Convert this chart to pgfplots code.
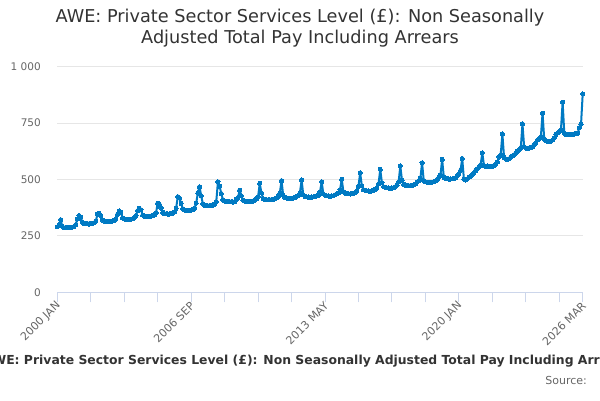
\documentclass[border=0pt]{standalone}
\usepackage{pgfplots}
\usepackage{pgfplotstable}
\pgfplotsset{compat=1.18}
\usepackage{fontspec}
\setmainfont{DejaVu Sans}
\definecolor{linec}{RGB}{0,122,195}
\definecolor{axc}{HTML}{CCD6EB}
\definecolor{gridc}{HTML}{E6E6E6}
\definecolor{labc}{HTML}{666666}
\definecolor{titc}{HTML}{333333}

\pgfplotstableread{
x y
0 290
1 298
2 322
3 292
4 286
5 287
6 288
7 287
8 288
9 289
10 291
11 300
12 325
13 340
14 333
15 310
16 305
17 304
18 305
19 303
20 305
21 306
22 308
23 315
24 345
25 350
26 338
27 320
28 316
29 315
30 314
31 313
32 315
33 316
34 318
35 326
36 345
37 360
38 354
39 330
40 325
41 324
42 323
43 322
44 324
45 326
46 330
47 340
48 362
49 372
50 366
51 342
52 338
53 337
54 336
55 337
56 338
57 340
58 343
59 352
60 395
61 390
62 374
63 354
64 349
65 348
66 347
67 347
68 349
69 351
70 356
71 372
72 424
73 418
74 394
75 370
76 365
77 364
78 363
79 363
80 365
81 367
82 373
83 395
84 440
85 468
86 428
87 392
88 386
89 385
90 384
91 383
92 385
93 387
94 391
95 402
96 490
97 470
98 438
99 410
100 405
101 404
102 403
103 402
104 401
105 400
106 402
107 412
108 420
109 453
110 428
111 408
112 405
113 404
114 404
115 403
116 404
117 405
118 408
119 414
120 424
121 483
122 440
123 415
124 412
125 411
126 410
127 410
128 411
129 412
130 414
131 418
132 425
133 440
134 495
135 430
136 420
137 418
138 417
139 416
140 417
141 418
142 420
143 425
144 428
145 440
146 498
147 432
148 425
149 423
150 422
151 421
152 422
153 423
154 425
155 428
156 430
157 445
158 490
159 436
160 430
161 428
162 427
163 426
164 427
165 428
166 432
167 437
168 440
169 455
170 501
171 445
172 440
173 438
174 437
175 436
176 437
177 438
178 442
179 450
180 470
181 530
182 472
183 455
184 452
185 450
186 449
187 448
188 450
189 452
190 456
191 462
192 480
193 545
194 486
195 468
196 465
197 463
198 462
199 461
200 462
201 464
202 468
203 475
204 490
205 560
206 496
207 478
208 475
209 474
210 473
211 472
212 474
213 476
214 480
215 488
216 495
217 505
218 574
219 495
220 490
221 488
222 487
223 486
224 488
225 490
226 494
227 500
228 510
229 520
230 589
231 510
232 505
233 503
234 502
235 502
236 503
237 505
238 508
239 515
240 525
241 540
242 593
243 502
244 498
245 503
246 510
247 515
248 522
249 530
250 540
251 548
252 555
253 565
254 618
255 562
256 558
257 560
258 558
259 556
260 558
261 562
262 567
263 578
264 600
265 610
266 702
267 598
268 592
269 588
270 592
271 598
272 605
273 610
274 616
275 625
276 632
277 640
278 747
279 645
280 640
281 638
282 640
283 642
284 646
285 652
286 662
287 675
288 680
289 690
290 794
291 680
292 672
293 670
294 668
295 670
296 675
297 685
298 700
299 706
300 712
301 720
302 843
303 705
304 700
305 700
306 698
307 698
308 700
309 702
310 705
311 705
312 730
313 745
314 879
}\data

\begin{document}
\begin{tikzpicture}[x=1pt,y=1pt]
\useasboundingbox (0,0) rectangle (600,400);
\clip (0,0) rectangle (600,400);
\fill[white] (0,0) rectangle (600,400);
\node[align=center, text=titc, font=\fontsize{17.7}{21}\selectfont] at (300,371.5)
  {AWE: Private Sector Services Level (£): Non Seasonally\\Adjusted Total Pay Including Arrears};
\begin{axis}[
  at={(57.3pt,107.7pt)}, anchor=south west, scale only axis,
  width=525.4pt, height=225.6pt,
  xmin=0, xmax=314, ymin=0, ymax=1000,
  clip=false,
  axis lines*=left,
  x axis line style={draw=axc, line width=1pt, -},
  y axis line style={draw=none},
  tick align=outside,
  major tick length=10pt,
  minor tick length=10pt,
  xtick={0,80,160,240,314},
  xticklabels={{2000 JAN},{2006 SEP},{2013 MAY},{2020 JAN},{2026 MAR}},
  minor xtick={20,40,60,100,120,140,180,200,220,260,280,300},
  x tick style={draw=axc, line width=1pt},
  minor x tick style={draw=axc, line width=1pt},
  y tick style={draw=none},
  ytick={0,250,500,750,1000},
  yticklabels={0,250,500,750,{1 000}},
  ymajorgrids,
  y grid style={draw=gridc, line width=1pt},
  xticklabel style={rotate=45, anchor=east, inner sep=0pt, text=labc, font=\fontsize{11}{13}\selectfont, yshift=-2pt},
  yticklabel style={anchor=east, inner sep=0pt, text=labc, font=\fontsize{10.5}{12}\selectfont, xshift=-6.3pt},
]
\addplot[color=linec, line width=2pt, line join=round, mark=*, mark size=2.1pt,
  mark options={fill=linec, draw=linec, line width=0pt}] table[x=x,y=y]{\data};
\end{axis}
\node[anchor=base east, inner sep=0pt, text=titc, font=\bfseries\fontsize{12.4}{14}\selectfont] at (600,36)
  {AWE: Private Sector Services Level (£): Non Seasonally Adjusted Total Pay Including Arr\rlap{ears}};
\node[anchor=base east, inner sep=0pt, text=labc, font=\fontsize{11}{13}\selectfont] at (587,16) {Source:};
\end{tikzpicture}
\end{document}
